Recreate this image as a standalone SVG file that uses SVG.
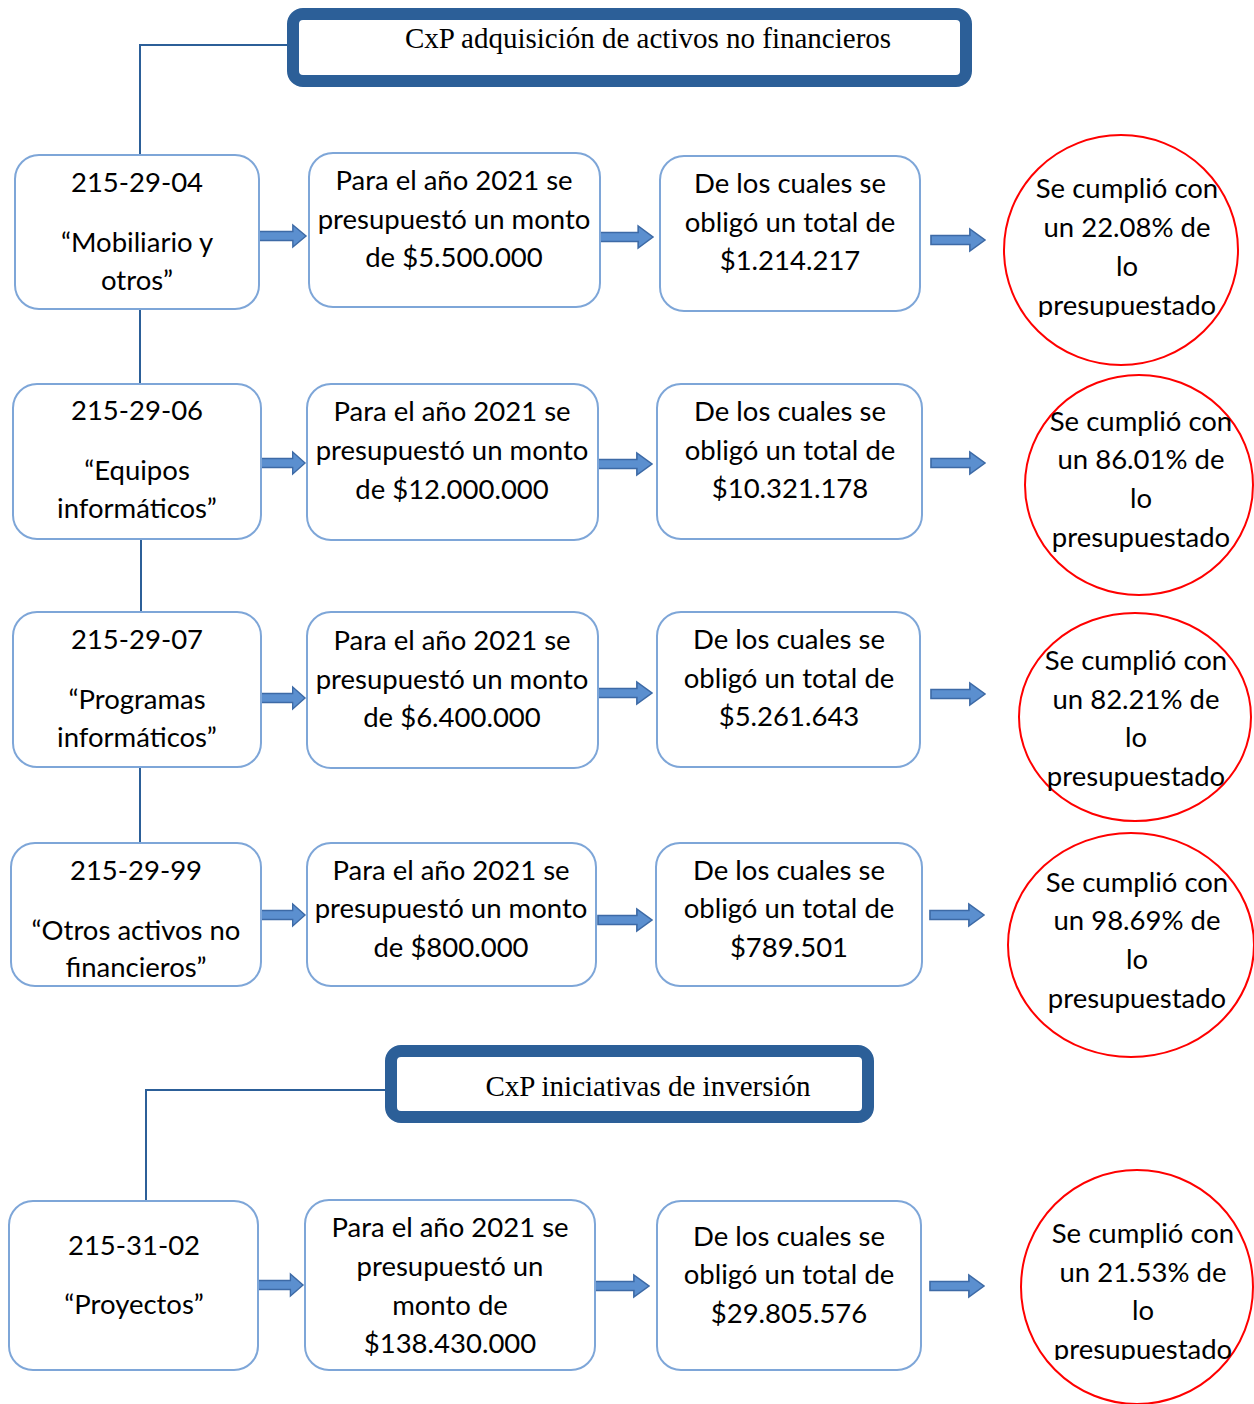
<svg xmlns="http://www.w3.org/2000/svg" width="1254" height="1404" viewBox="0 0 1254 1404">
<style>
.box{fill:#fff;stroke:#7ea6d8;stroke-width:2}
.title{fill:#fff;stroke:#2c5f98;stroke-width:12}
.circ{fill:#fff;stroke:#ff0000;stroke-width:2}
.t{font-family:Lato,"Open Sans",sans-serif;font-size:27.5px;fill:#000;text-anchor:middle}
.tt{font-family:"Liberation Serif",serif;font-size:29px;fill:#000;text-anchor:middle}
.conn{fill:none;stroke:#2c5f98;stroke-width:2}
.arr{fill:#5b8fcf;stroke:#3d6aa6;stroke-width:1.5}
</style>
<defs>
<path id="ar" class="arr" d="M0,-4.5 H36 V-11 L50,0 L36,11 V4.5 H0 Z"/>
<clipPath id="c1"><rect x="1000" y="130" width="254" height="187"/></clipPath>
<clipPath id="c5"><rect x="1000" y="1160" width="254" height="200"/></clipPath>
</defs>
<g id="connectors">
<polyline class="conn" points="290,45 140,45 140,155"/>
<line class="conn" x1="140" y1="309" x2="140" y2="384"/>
<line class="conn" x1="141" y1="539" x2="141" y2="612"/>
<line class="conn" x1="140" y1="767" x2="140" y2="843"/>
<polyline class="conn" points="387,1090 146,1090 146,1201"/>
<use href="#ar" transform="translate(259,236) scale(0.94,1)"/>
<use href="#ar" transform="translate(600,237) scale(1.06,1)"/>
<use href="#ar" transform="translate(931,240) scale(1.08,1)"/>
<use href="#ar" transform="translate(261,463) scale(0.88,1)"/>
<use href="#ar" transform="translate(598,464) scale(1.08,1)"/>
<use href="#ar" transform="translate(931,463) scale(1.08,1)"/>
<use href="#ar" transform="translate(261,698) scale(0.88,1)"/>
<use href="#ar" transform="translate(598,693) scale(1.08,1)"/>
<use href="#ar" transform="translate(931,694) scale(1.08,1)"/>
<use href="#ar" transform="translate(261,915) scale(0.88,1)"/>
<use href="#ar" transform="translate(598,920) scale(1.08,1)"/>
<use href="#ar" transform="translate(930,915) scale(1.08,1)"/>
<use href="#ar" transform="translate(258,1285) scale(0.9,1)"/>
<use href="#ar" transform="translate(595,1286) scale(1.08,1)"/>
<use href="#ar" transform="translate(930,1286) scale(1.08,1)"/>
</g>
<g id="title1">
<rect class="title" x="293" y="14" width="673" height="67" rx="10"/>
<text class="tt" x="648" y="48">CxP adquisición de activos no financieros</text>
</g>
<g id="n1a"><rect class="box" x="15" y="155" width="244" height="154" rx="24"/>
<text class="t" x="137" y="192">215-29-04</text><text class="t" x="137" y="252">“Mobiliario y</text><text class="t" x="137" y="290">otros”</text></g>
<g id="n1b"><rect class="box" x="309" y="153" width="291" height="154" rx="24"/>
<text class="t" x="454" y="190">Para el año 2021 se</text><text class="t" x="454" y="229">presupuestó un monto</text><text class="t" x="454" y="267">de $5.500.000</text></g>
<g id="n1c"><rect class="box" x="660" y="156" width="260" height="155" rx="24"/>
<text class="t" x="790" y="193">De los cuales se</text><text class="t" x="790" y="232">obligó un total de</text><text class="t" x="790" y="270">$1.214.217</text></g>
<g id="n1d"><ellipse class="circ" cx="1121" cy="250" rx="117" ry="115"/>
<g clip-path="url(#c1)"><text class="t" x="1127" y="198">Se cumplió con</text><text class="t" x="1127" y="237">un 22.08% de</text><text class="t" x="1127" y="276">lo</text><text class="t" x="1127" y="315">presupuestado</text></g></g>

<g id="n2a"><rect class="box" x="13" y="384" width="248" height="155" rx="24"/>
<text class="t" x="137" y="420">215-29-06</text><text class="t" x="137" y="480">“Equipos</text><text class="t" x="137" y="518">informáticos”</text></g>
<g id="n2b"><rect class="box" x="307" y="384" width="291" height="156" rx="24"/>
<text class="t" x="452" y="421">Para el año 2021 se</text><text class="t" x="452" y="460">presupuestó un monto</text><text class="t" x="452" y="499">de $12.000.000</text></g>
<g id="n2c"><rect class="box" x="657" y="384" width="265" height="155" rx="24"/>
<text class="t" x="790" y="421">De los cuales se</text><text class="t" x="790" y="460">obligó un total de</text><text class="t" x="790" y="498">$10.321.178</text></g>
<g id="n2d"><ellipse class="circ" cx="1139" cy="485" rx="114" ry="110"/>
<text class="t" x="1141" y="431">Se cumplió con</text><text class="t" x="1141" y="469">un 86.01% de</text><text class="t" x="1141" y="508">lo</text><text class="t" x="1141" y="547">presupuestado</text></g>

<g id="n3a"><rect class="box" x="13" y="612" width="248" height="155" rx="24"/>
<text class="t" x="137" y="649">215-29-07</text><text class="t" x="137" y="709">“Programas</text><text class="t" x="137" y="747">informáticos”</text></g>
<g id="n3b"><rect class="box" x="307" y="612" width="291" height="156" rx="24"/>
<text class="t" x="452" y="650">Para el año 2021 se</text><text class="t" x="452" y="689">presupuestó un monto</text><text class="t" x="452" y="727">de $6.400.000</text></g>
<g id="n3c"><rect class="box" x="657" y="612" width="263" height="155" rx="24"/>
<text class="t" x="789" y="649">De los cuales se</text><text class="t" x="789" y="688">obligó un total de</text><text class="t" x="789" y="726">$5.261.643</text></g>
<g id="n3d"><ellipse class="circ" cx="1135" cy="717" rx="116" ry="104"/>
<text class="t" x="1136" y="670">Se cumplió con</text><text class="t" x="1136" y="709">un 82.21% de</text><text class="t" x="1136" y="747">lo</text><text class="t" x="1136" y="786">presupuestado</text></g>

<g id="n4a"><rect class="box" x="11" y="843" width="250" height="143" rx="24"/>
<text class="t" x="136" y="880">215-29-99</text><text class="t" x="136" y="940">“Otros activos no</text><text class="t" x="136" y="977">financieros”</text></g>
<g id="n4b"><rect class="box" x="307" y="843" width="289" height="143" rx="24"/>
<text class="t" x="451" y="880">Para el año 2021 se</text><text class="t" x="451" y="918">presupuestó un monto</text><text class="t" x="451" y="957">de $800.000</text></g>
<g id="n4c"><rect class="box" x="656" y="843" width="266" height="143" rx="24"/>
<text class="t" x="789" y="880">De los cuales se</text><text class="t" x="789" y="918">obligó un total de</text><text class="t" x="789" y="957">$789.501</text></g>
<g id="n4d"><ellipse class="circ" cx="1131" cy="945" rx="123" ry="112"/>
<text class="t" x="1137" y="892">Se cumplió con</text><text class="t" x="1137" y="930">un 98.69% de</text><text class="t" x="1137" y="969">lo</text><text class="t" x="1137" y="1008">presupuestado</text></g>

<g id="title2">
<rect class="title" x="391" y="1051" width="477" height="66" rx="10"/>
<text class="tt" x="648" y="1096">CxP iniciativas de inversión</text>
</g>

<g id="n5a"><rect class="box" x="9" y="1201" width="249" height="169" rx="24"/>
<text class="t" x="134" y="1255">215-31-02</text><text class="t" x="134" y="1314">“Proyectos”</text></g>
<g id="n5b"><rect class="box" x="305" y="1200" width="290" height="170" rx="24"/>
<text class="t" x="450" y="1237">Para el año 2021 se</text><text class="t" x="450" y="1276">presupuestó un</text><text class="t" x="450" y="1315">monto de</text><text class="t" x="450" y="1353">$138.430.000</text></g>
<g id="n5c"><rect class="box" x="657" y="1201" width="264" height="169" rx="24"/>
<text class="t" x="789" y="1246">De los cuales se</text><text class="t" x="789" y="1284">obligó un total de</text><text class="t" x="789" y="1323">$29.805.576</text></g>
<g id="n5d"><ellipse class="circ" cx="1137" cy="1287" rx="116" ry="117"/>
<g clip-path="url(#c5)"><text class="t" x="1143" y="1243">Se cumplió con</text><text class="t" x="1143" y="1282">un 21.53% de</text><text class="t" x="1143" y="1320">lo</text><text class="t" x="1143" y="1359">presupuestado</text></g></g>
</svg>
